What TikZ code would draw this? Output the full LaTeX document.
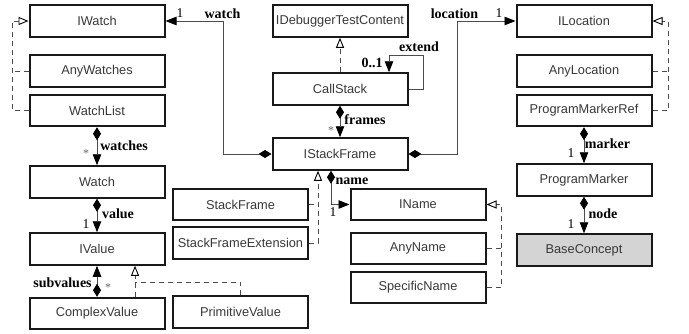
\documentclass[tikz,border=0pt]{standalone}
\usepackage{fontspec}
\setmainfont{Liberation Serif}
\setsansfont{Liberation Sans}
\usetikzlibrary{arrows.meta}
\definecolor{bcfill}{RGB}{212,212,212}
\begin{document}
\begin{tikzpicture}[x=1pt,y=-1pt,
 cls/.style={draw=black!90, line width=2pt, minimum width=135pt, minimum height=31.5pt, inner sep=0pt, font=\sffamily\fontsize{12.8}{14}\selectfont, text=black!78},
 lbl/.style={font=\bfseries\fontsize{14}{16}\selectfont, inner sep=0pt},
 mult/.style={font=\fontsize{13.5}{15}\selectfont, inner sep=0pt},
 star/.style={font=\fontsize{12}{12}\selectfont, text=black!60, inner sep=0pt},
 conn/.style={draw=black!70, line width=0.9pt},
 comp/.style={conn, {Diamond[length=13pt,width=8pt,color=black]}-{Triangle[length=11pt,width=8.5pt,color=black]}},
 assoc/.style={conn, -{Triangle[length=11pt,width=8.5pt,color=black]}},
 real/.style={conn, dash pattern=on 5pt off 4pt, -{Triangle[open,length=10pt,width=8pt,color=black,fill=white]}},
 dsh/.style={conn, dash pattern=on 5pt off 4pt}]
\useasboundingbox (0,0) rectangle (689,333);
% classes
\node[cls] (IWatch) at (97,21) {IWatch};
\node[cls] (AnyWatches) at (97,71) {AnyWatches};
\node[cls] (WatchList) at (97,110.5) {WatchList};
\node[cls] (Watch) at (97,182) {Watch};
\node[cls] (IValue) at (97,249) {IValue};
\node[cls] (ComplexValue) at (97,313.5) {ComplexValue};
\node[cls] (StackFrame) at (240.5,204.5) {StackFrame};
\node[cls] (StackFrameExtension) at (240.5,243) {StackFrameExtension};
\node[cls] (PrimitiveValue) at (240.5,312) {PrimitiveValue};
\node[cls] (IDebuggerTestContent) at (340,21) {IDebuggerTestContent};
\node[cls] (CallStack) at (340,89) {CallStack};
\node[cls] (IStackFrame) at (340,154) {IStackFrame};
\node[cls] (IName) at (418,204.5) {IName};
\node[cls] (AnyName) at (418,248.5) {AnyName};
\node[cls] (SpecificName) at (418,287.5) {SpecificName};
\node[cls] (ILocation) at (584,21) {ILocation};
\node[cls] (AnyLocation) at (584,71) {AnyLocation};
\node[cls] (ProgramMarkerRef) at (584,110.5) {ProgramMarkerRef};
\node[cls] (ProgramMarker) at (584,180) {ProgramMarker};
\node[cls, fill=bcfill] (BaseConcept) at (584,250) {BaseConcept};
% compositions / associations
\draw[comp] (IStackFrame.west) -| (223,21) -- (IWatch.east);
\draw[comp] (IStackFrame.east) -| (457,21) -- (ILocation.west);
\draw[comp] (CallStack.south) -- (IStackFrame.north);
\draw[assoc] (CallStack.east) -| (423,55) -| ([xshift=49pt]CallStack.north);
\draw[comp] (WatchList.south) -- (Watch.north);
\draw[comp] (Watch.south) -- (IValue.north);
\draw[comp] (ComplexValue.north) -- (IValue.south);
\draw[comp] (ProgramMarkerRef.south) -- (ProgramMarker.north);
\draw[comp] (ProgramMarker.south) -- (BaseConcept.north);
\draw[comp] ([xshift=-9pt]IStackFrame.south) |- (IName.west);
% realizations
\draw[real] (CallStack.north) -- (IDebuggerTestContent.south);
\draw[dsh] (AnyWatches.west) -- (12,71);
\draw[real] (WatchList.west) -| (12,21) -- (IWatch.west);
\draw[dsh] (AnyLocation.east) -- (668,71);
\draw[real] (ProgramMarkerRef.east) -| (668,21) -- (ILocation.east);
\draw[dsh] (AnyName.east) -- (501,248.5);
\draw[real] (SpecificName.east) -| (501,204.5) -- (IName.east);
\draw[dsh] (StackFrame.east) -- (318,204.5);
\draw[real] (StackFrameExtension.east) -| ([xshift=-22pt]IStackFrame.south);
\draw[dsh] (PrimitiveValue.north) |- (135,282);
\draw[real] ([xshift=38pt]ComplexValue.north) -- ([xshift=38pt]IValue.south);
% labels
\node[lbl] (lwatch) at (222.5,14) {watch};
\node[mult] (mwatch) at (180,13) {1};
\node[lbl] (lloc) at (454.5,14) {location};
\node[mult] (mloc) at (499,13) {1};
\node[lbl] (lext) at (419,47) {extend};
\node[lbl] (mext) at (372,63) {0..1};
\node[lbl] (lframes) at (365,120) {frames};
\node[star] (mframes) at (331,131) {*};
\node[lbl] (lwatches) at (124,146) {watches};
\node[star] (mwatches) at (86,154) {*};
\node[lbl] (lvalue) at (118,214) {value};
\node[mult] (mvalue) at (86,224) {1};
\node[lbl] (lsub) at (62.5,283) {subvalues};
\node[star] (msub) at (108,288) {*};
\node[lbl] (lname) at (352,181) {name};
\node[mult] (mname) at (333,212) {1};
\node[lbl] (lmarker) at (607.5,144) {marker};
\node[mult] (mmarker) at (571,153) {1};
\node[lbl] (lnode) at (603,214) {node};
\node[mult] (mnode) at (571,224) {1};
\end{tikzpicture}
\end{document}
